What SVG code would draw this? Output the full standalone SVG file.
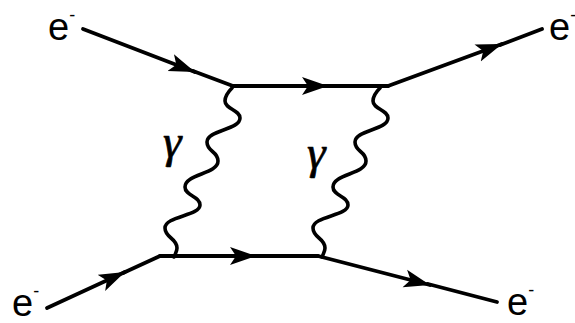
<svg xmlns="http://www.w3.org/2000/svg" width="575" height="323" viewBox="0 0 575 323">
<style>
.f{fill:none;stroke:#000;stroke-width:3.8;stroke-linecap:round;stroke-linejoin:round}
.p{fill:none;stroke:#000;stroke-width:3.6;stroke-linecap:round}
.lbl{font-family:"Liberation Sans",Arial,sans-serif;font-size:38px;fill:#000}
.sup{font-size:18px}
.g{font-family:"Liberation Serif","Times New Roman",serif;font-size:47px;font-style:italic;fill:#000;stroke:#000;stroke-width:0.7}
</style>
<defs>
<marker id="ah" markerUnits="userSpaceOnUse" markerWidth="30" markerHeight="22" refX="26" refY="10" orient="auto" viewBox="0 0 30 22">
<path d="M26,10 L0,1 L6,10 L0,19 Z" fill="#000"/>
</marker>
<path id="wave" d="M232,88 C228,92 225,96 225,101 C225,109 240,110 240,118 C240,130 207,130 207,142 C207,152 218,151 218,161 C218,174 185,174 185,187 C185,196 200,196 200,205 C200,216 165,216 165,228 C165,238 177,238 177,248 C177,252 175,254 174,257"/>
</defs>
<g id="connectors">
<g id="e-in-top">
<path class="f" d="M83,29 L195,72" marker-end="url(#ah)"/>
<path class="f" d="M193,71 L233,86"/>
</g>
<g id="e-prop-top">
<path class="f" d="M233,86 L328,86" marker-end="url(#ah)"/>
<path class="f" d="M327,86 L388,86"/>
</g>
<g id="e-out-top">
<path class="f" d="M388,86 L502,44" marker-end="url(#ah)"/>
<path class="f" d="M500,45 L542,29"/>
</g>
<g id="e-in-bottom">
<path class="f" d="M47,308 L125,272" marker-end="url(#ah)"/>
<path class="f" d="M123,273 L160,256"/>
</g>
<g id="e-prop-bottom">
<path class="f" d="M160,256 L256,256" marker-end="url(#ah)"/>
<path class="f" d="M255,256 L318,256"/>
</g>
<g id="e-out-bottom">
<path class="f" d="M318,256 L430,285" marker-end="url(#ah)"/>
<path class="f" d="M428,284 L497,302"/>
</g>
<g id="photon-1"><use href="#wave" class="p"/></g>
<g id="photon-2"><use href="#wave" class="p" transform="translate(148,0)"/></g>
</g>
<g id="label-e-top-left"><text class="lbl" x="48" y="40">e<tspan class="sup" dy="-19">-</tspan></text></g>
<g id="label-e-top-right"><text class="lbl" x="549" y="40">e<tspan class="sup" dy="-19">-</tspan></text></g>
<g id="label-e-bottom-left"><text class="lbl" x="12" y="316">e<tspan class="sup" dy="-19">-</tspan></text></g>
<g id="label-e-bottom-right"><text class="lbl" x="507" y="315">e<tspan class="sup" dy="-19">-</tspan></text></g>
<g id="label-gamma-1"><text class="g" x="163" y="157">γ</text></g>
<g id="label-gamma-2"><text class="g" x="307" y="168">γ</text></g>
</svg>
